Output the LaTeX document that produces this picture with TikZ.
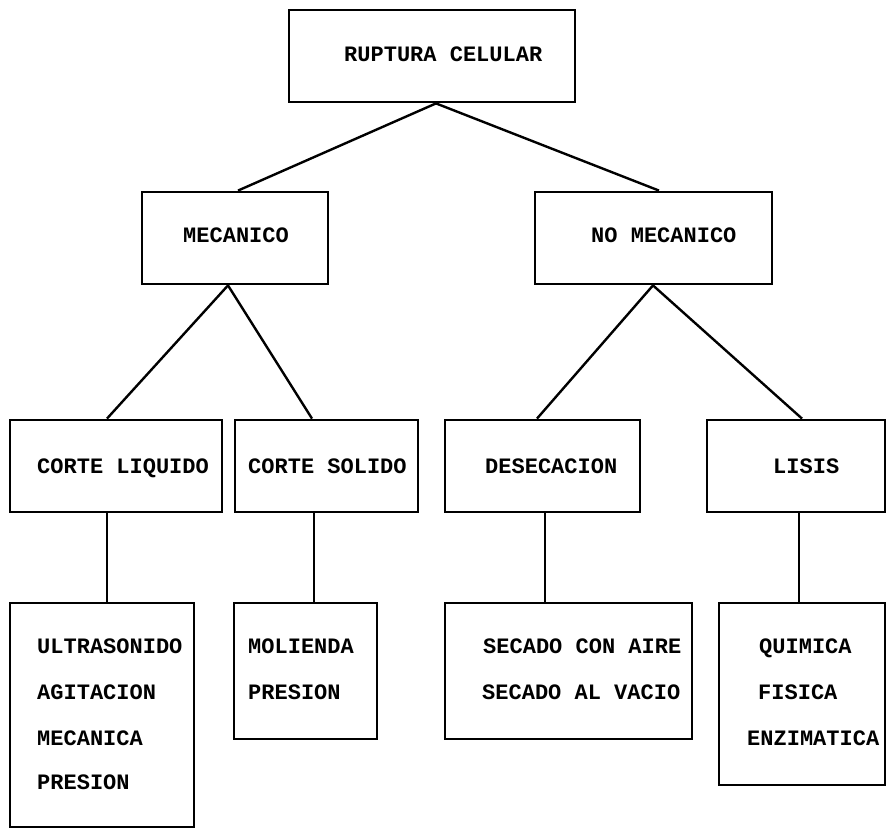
\documentclass[tikz,border=0pt]{standalone}
\usepackage{fontspec}
\setmainfont{Liberation Mono}
\begin{document}
\begin{tikzpicture}[x=1pt,y=-1pt,
  box/.style={draw, rectangle, line width=2.8pt, inner sep=0pt},
  lbl/.style={anchor=base west, inner sep=0pt, font=\fontsize{22}{24}\selectfont\bfseries},
  link/.style={line width=2.4pt}]
\useasboundingbox[fill=white] (0,0) rectangle (887,829);
% boxes
\node[box, minimum width=286pt, minimum height=92pt] (top) at (432,56) {};
\node[box, minimum width=186pt, minimum height=92pt] (mec) at (235,238) {};
\node[box, minimum width=237pt, minimum height=92pt] (nomec) at (653.5,238) {};
\node[box, minimum width=212pt, minimum height=92pt] (cl) at (116,466) {};
\node[box, minimum width=183pt, minimum height=92pt] (cs) at (326.5,466) {};
\node[box, minimum width=195pt, minimum height=92pt] (des) at (542.5,466) {};
\node[box, minimum width=178pt, minimum height=92pt] (lis) at (796,466) {};
\node[box, minimum width=184pt, minimum height=224pt] (ultra) at (102,715) {};
\node[box, minimum width=143pt, minimum height=136pt] (mol) at (305.5,671) {};
\node[box, minimum width=247pt, minimum height=136pt] (sec) at (568.5,671) {};
\node[box, minimum width=166pt, minimum height=182pt] (qui) at (802,694) {};
% texts
\node[lbl] (ttop) at (344,62) {RUPTURA CELULAR};
\node[lbl] (tmec) at (183,243) {MECANICO};
\node[lbl] (tnomec) at (591,243) {NO MECANICO};
\node[lbl] (tcl) at (37,473) {CORTE LIQUIDO};
\node[lbl] (tcs) at (248,473) {CORTE SOLIDO};
\node[lbl] (tdes) at (485,473) {DESECACION};
\node[lbl] (tlis) at (773,473) {LISIS};
\node[lbl] (tu1) at (37,653) {ULTRASONIDO};
\node[lbl] (tu2) at (37,699) {AGITACION};
\node[lbl] (tu3) at (37,745) {MECANICA};
\node[lbl] (tu4) at (37,789) {PRESION};
\node[lbl] (tm1) at (248,653) {MOLIENDA};
\node[lbl] (tm2) at (248,699) {PRESION};
\node[lbl] (ts1) at (483,653) {SECADO CON AIRE};
\node[lbl] (ts2) at (482,699) {SECADO AL VACIO};
\node[lbl] (tq1) at (759,653) {QUIMICA};
\node[lbl] (tq2) at (758,699) {FISICA};
\node[lbl] (tq3) at (747,745) {ENZIMATICA};
% connectors
\draw[link] (top.south -| 436,0) -- (mec.north -| 238,0);
\draw[link] (top.south -| 436,0) -- (nomec.north -| 659,0);
\draw[link] (mec.south -| 228,0) -- (cl.north -| 107,0);
\draw[link] (mec.south -| 228,0) -- (cs.north -| 312,0);
\draw[link] (nomec.south -| 653,0) -- (des.north -| 537,0);
\draw[link] (nomec.south -| 653,0) -- (lis.north -| 802,0);
\draw[link] (cl.south -| 107,0) -- (ultra.north -| 107,0);
\draw[link] (cs.south -| 314,0) -- (mol.north -| 314,0);
\draw[link] (des.south -| 545,0) -- (sec.north -| 545,0);
\draw[link] (lis.south -| 799,0) -- (qui.north -| 799,0);
\end{tikzpicture}
\end{document}
